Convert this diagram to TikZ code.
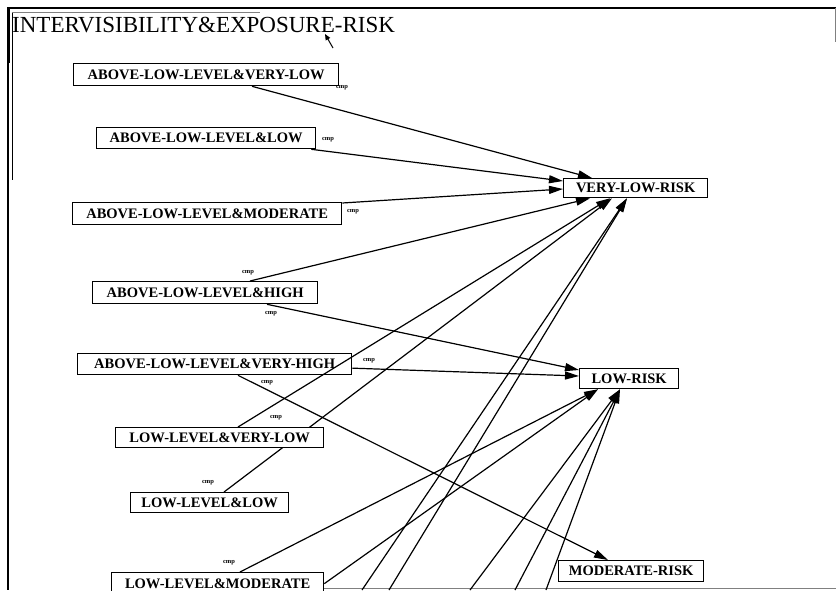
\documentclass[tikz,border=0pt]{standalone}
\usepackage{fontspec}
\setmainfont{Liberation Serif}
\usetikzlibrary{arrows.meta,calc,backgrounds}
\begin{document}
\begin{tikzpicture}[x=1pt,y=-1pt,
  box/.style={draw,line width=1.3pt,fill=white,inner sep=0pt,anchor=north west,
    font=\fontsize{14.5}{16}\selectfont\bfseries},
  edge/.style={line width=1.2pt,-{Triangle[length=14pt,width=8pt]}},
  cmp/.style={inner sep=0pt,font=\fontsize{6.5}{7}\selectfont\bfseries},
  frame/.style={line width=1.4pt}]
\useasboundingbox (0,0) rectangle (836,590);
% window frame
\draw[frame] (7,8) -- (836,8);
\draw[frame] (8,8) -- (8,590);
\draw[line width=3pt] (8,8) -- (8,63);
\draw[line width=0.5pt] (12,12) -- (12,180);
\draw[line width=0.5pt,gray] (12,12) -- (260,12);
\draw[line width=0.8pt,gray] (835,8) -- (835,42);
\draw[line width=1pt,gray] (257,588) -- (836,588);
% title
\node[anchor=base west,inner sep=0pt,font=\fontsize{23}{26}\selectfont] (title) at (12,32) {INTERVISIBILITY\&EXPOSURE-RISK};
% cursor
\coordinate (curA) at (333,48);
\coordinate (curB) at (325,34);
\draw[line width=1pt,-{Triangle[length=6pt,width=5pt]}] (curA) -- (curB);
% source nodes
\node[box,minimum width=265pt,minimum height=22pt] (n1) at (73,63) {ABOVE-LOW-LEVEL\&VERY-LOW};
\node[box,minimum width=219pt,minimum height=21pt] (n2) at (96,127) {ABOVE-LOW-LEVEL\&LOW};
\node[box,minimum width=269pt,minimum height=22pt] (n3) at (72,202) {ABOVE-LOW-LEVEL\&MODERATE};
\node[box,minimum width=225pt,minimum height=22pt] (n4) at (92,281) {ABOVE-LOW-LEVEL\&HIGH};
\node[box,minimum width=274pt,minimum height=21pt] (n5) at (77,353) {ABOVE-LOW-LEVEL\&VERY-HIGH};
\node[box,minimum width=208pt,minimum height=20pt] (n6) at (115,427) {LOW-LEVEL\&VERY-LOW};
\node[box,minimum width=158pt,minimum height=20pt] (n7) at (130,492) {LOW-LEVEL\&LOW};
\node[box,minimum width=212pt,minimum height=22pt] (n8) at (111,572) {LOW-LEVEL\&MODERATE};
% target nodes
\node[box,minimum width=144pt,minimum height=19pt] (VL) at (563,178) {VERY-LOW-RISK};
\node[box,minimum width=99pt,minimum height=20pt] (LR) at (579,368) {LOW-RISK};
\node[box,minimum width=145pt,minimum height=21pt] (MR) at (558,560) {MODERATE-RISK};
% off-picture sources
\coordinate (b1) at (362,590);
\coordinate (b2) at (389,590);
\coordinate (b3) at (470,590);
\coordinate (b4) at (515,590);
\coordinate (b5) at (546,590);
% connectors
\begin{scope}[on background layer]
\draw[edge] ($(n7.north west)+(94,0)$) -- ($(VL.south west)+(49,0)$);
\end{scope}
\draw[edge] ($(n1.south west)+(179,0)$) -- ($(VL.north west)+(29,0)$);
\draw[edge] ($(n2.south east)+(-5,0)$) -- ($(VL.north west)+(0,3)$);
\draw[edge] ($(n3.north east)+(0,1)$) -- ($(VL.north west)+(0,11)$);
\draw[edge] ($(n4.north west)+(158,0)$) -- ($(VL.south west)+(27,0)$);
\draw[edge] ($(n6.north west)+(123,0)$) -- ($(VL.south west)+(47,0)$);
\draw[edge] (b1) -- ($(VL.south west)+(64,0)$);
\draw[edge] (b2) -- ($(VL.south west)+(64,0)$);
\draw[edge] ($(n4.south west)+(175,0)$) -- ($(LR.north west)+(0,2)$);
\draw[edge] ($(n5.east)+(0,4)$) -- ($(LR.north west)+(0,8)$);
\draw[edge] ($(n8.north west)+(129,0)$) -- ($(LR.south west)+(19,0)$);
\draw[edge] (n8.east) -- ($(LR.south west)+(19,0)$);
\draw[edge] (b3) -- ($(LR.south west)+(41,0)$);
\draw[edge] (b4) -- ($(LR.south west)+(41,0)$);
\draw[edge] (b5) -- ($(LR.south west)+(41,0)$);
\draw[edge] ($(n5.south west)+(161,0)$) -- ($(MR.north west)+(50,0)$);
% cmp labels
\node[cmp] (c1) at (342,88) {cmp};
\node[cmp] (c2) at (328,140) {cmp};
\node[cmp] (c3) at (353,212) {cmp};
\node[cmp] (c4) at (248,273) {cmp};
\node[cmp] (c5) at (271,314) {cmp};
\node[cmp] (c6) at (369,361) {cmp};
\node[cmp] (c7) at (267,383) {cmp};
\node[cmp] (c8) at (276,418) {cmp};
\node[cmp] (c9) at (208,483) {cmp};
\node[cmp] (c10) at (229,563) {cmp};
\end{tikzpicture}
\end{document}
